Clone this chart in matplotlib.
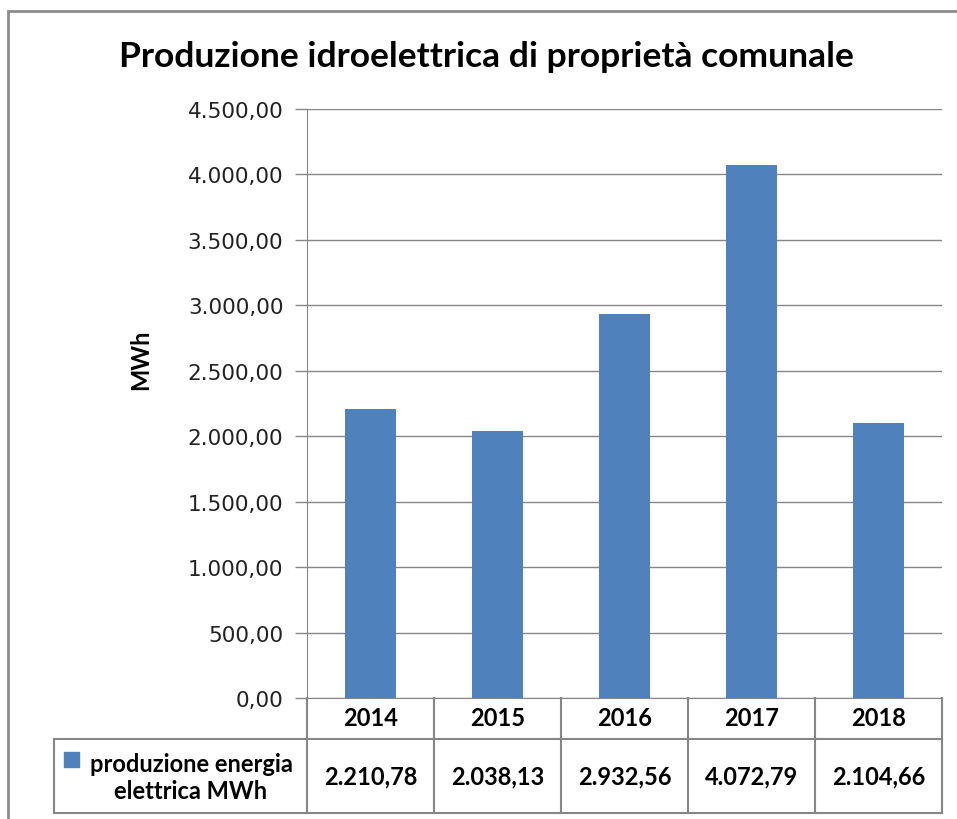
import matplotlib.pyplot as plt
from matplotlib.patches import Rectangle
from matplotlib.ticker import FuncFormatter

# dati
anni = ['2014', '2015', '2016', '2017', '2018']
produzione = [2210.78, 2038.13, 2932.56, 4072.79, 2104.66]
etichette_valori = ['2.210,78', '2.038,13', '2.932,56', '4.072,79', '2.104,66']
serie = 'produzione energia\nelettrica MWh'

blu = '#4F81BD'
grigio = '#868686'

W, H = 957, 820
fig = plt.figure(figsize=(W / 100, H / 100), dpi=100)

# bordo del grafico (esce dall'immagine a destra e in basso)
fig.patches.append(Rectangle((8 / W, -0.1), 1.2, 1 - 12 / H + 0.1, transform=fig.transFigure,
                             fill=False, edgecolor='#8c8c8c', lw=2))

# area del grafico in pixel
L, R, T, B = 307, 942, 110, 699
ax = fig.add_axes([L / W, 1 - B / H, (R - L) / W, (B - T) / H])

x = range(len(anni))
ax.bar(x, produzione, width=0.4, color=blu, zorder=3)
ax.set_xlim(-0.5, len(anni) - 0.5)
ax.set_ylim(0, 4500)
ax.set_yticks(range(0, 4501, 500))


def fmt(v, pos):
    s = f'{v:,.2f}'
    return s.replace(',', 'X').replace('.', ',').replace('X', '.')


ax.yaxis.set_major_formatter(FuncFormatter(fmt))
ax.grid(axis='y', color=grigio, lw=1, zorder=0)
ax.set_axisbelow(True)
for s in ['top', 'right']:
    ax.spines[s].set_visible(False)
ax.spines['left'].set_color(grigio)
ax.spines['bottom'].set_color(grigio)
ax.tick_params(axis='y', length=9, width=1, color=grigio, labelsize=15.5, pad=8)
ax.tick_params(axis='x', bottom=False, labelbottom=False)
for t in ax.get_yticklabels():
    t.set_fontfamily('DejaVu Sans')
    t.set_color('#222222')

fig.text(141 / W, 1 - 360 / H, 'MWh', rotation=90, ha='center', va='center',
         fontsize=17, fontweight='bold', family='Lato')

fig.text(486 / W, 1 - 57 / H, 'Produzione idroelettrica di proprietà comunale',
         ha='center', va='center', fontsize=25.5, fontweight='bold', family='Lato')

# tabella dati sotto il grafico (coordinate in pixel convertite in coordinate asse)
def ay(py):
    return (B - py) / (B - T)


def axx(px):
    return (px - L) / (R - L)


riga1, fondo = 740, 814
kw = dict(transform=ax.transAxes, color=grigio, lw=1.5, clip_on=False)
for i in range(len(anni) + 1):
    xx = i / len(anni)
    ax.plot([xx, xx], [ay(B), ay(fondo)], **kw)
ax.plot([axx(54), 1], [ay(riga1), ay(riga1)], **kw)
ax.plot([axx(54), 1], [ay(fondo), ay(fondo)], **kw)
ax.plot([axx(54), axx(54)], [ay(riga1), ay(fondo)], **kw)

for i, (a, v) in enumerate(zip(anni, etichette_valori)):
    xc = (i + 0.5) / len(anni)
    ax.text(xc, ay(719), a, transform=ax.transAxes, ha='center', va='center',
            fontsize=17, fontweight='bold', family='Lato')
    ax.text(xc, ay(777), v, transform=ax.transAxes, ha='center', va='center',
            fontsize=17, fontweight='bold', family='Lato')

ax.add_patch(Rectangle((axx(64), ay(768)), axx(79) - axx(64), ay(753) - ay(768),
                       transform=ax.transAxes, color=blu, clip_on=False))
ax.text(axx(191), ay(778), serie, transform=ax.transAxes, ha='center', va='center',
        fontsize=17, fontweight='bold', family='Lato', linespacing=1.2)

fig.savefig('out.png', dpi=100)
